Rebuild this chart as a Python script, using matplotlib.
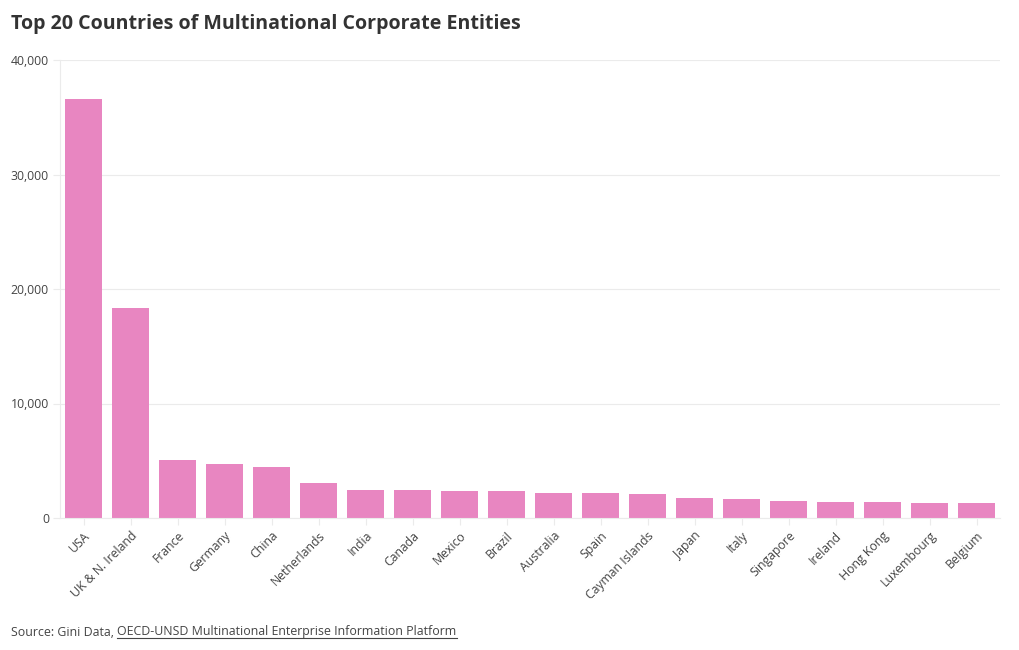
import matplotlib
matplotlib.use("Agg")
import matplotlib.pyplot as plt
import numpy as np

countries = ["USA", "UK & N. Ireland", "France", "Germany", "China", "Netherlands",
             "India", "Canada", "Mexico", "Brazil", "Australia", "Spain",
             "Cayman Islands", "Japan", "Italy", "Singapore", "Ireland",
             "Hong Kong", "Luxembourg", "Belgium"]
entities = [36600, 18330, 5080, 4710, 4470, 3020, 2470, 2410, 2380, 2350,
            2180, 2160, 2060, 1770, 1680, 1480, 1420, 1360, 1310, 1300]
yticks = [0, 10000, 20000, 30000, 40000]

plt.rcParams['font.family'] = ['Open Sans', 'DejaVu Sans']

fig = plt.figure(figsize=(10.2, 6.5), dpi=100)
ax = fig.add_axes([60/1020, 1 - 518/650, 940/1020, 458/650])

x = np.arange(len(countries))
ax.bar(x, entities, width=0.79, color="#E886C1", zorder=2)

ax.set_xlim(-0.5, len(countries) - 0.5)
ax.set_ylim(0, 40000)
ax.set_yticks(yticks)
ax.set_yticklabels([f"{v:,}" for v in yticks])
ax.set_xticks(x)
ax.set_xticklabels(countries, rotation=45, ha="right", rotation_mode="anchor")

ax.grid(axis="y", color="#ebebeb", linewidth=0.8, zorder=0)
for side in ["top", "right"]:
    ax.spines[side].set_visible(False)
ax.spines["left"].set_color("#ebebeb")
ax.spines["bottom"].set_color("#ebebeb")
ax.tick_params(axis="y", length=5, color="#ebebeb", labelsize=8.8, labelcolor="#444444", pad=3)
ax.tick_params(axis="x", length=5, color="#ebebeb", labelsize=8.8, labelcolor="#444444", pad=3)

fig.text(11/1020, 1 - 24/650, "Top 20 Countries of Multinational Corporate Entities",
         fontsize=14.1, fontweight="bold", color="#333333", va="center", ha="left")

src1 = fig.text(11/1020, 1 - 632/650, "Source: Gini Data, ", fontsize=8.9,
                color="#444444", va="center", ha="left")
fig.canvas.draw()
r = fig.canvas.get_renderer()
bb = src1.get_window_extent(r)
x2 = bb.x1 / fig.bbox.width
src2 = fig.text(x2, 1 - 632/650, "OECD-UNSD Multinational Enterprise Information Platform",
                fontsize=8.9, color="#444444", va="center", ha="left")
fig.canvas.draw()
bb2 = src2.get_window_extent(r)
uy = (bb2.y0 + 1) / fig.bbox.height
fig.add_artist(plt.Line2D([bb2.x0 / fig.bbox.width, bb2.x1 / fig.bbox.width], [uy, uy],
                          transform=fig.transFigure, color="#444444", linewidth=0.8))

fig.savefig("out.png", dpi=100)
